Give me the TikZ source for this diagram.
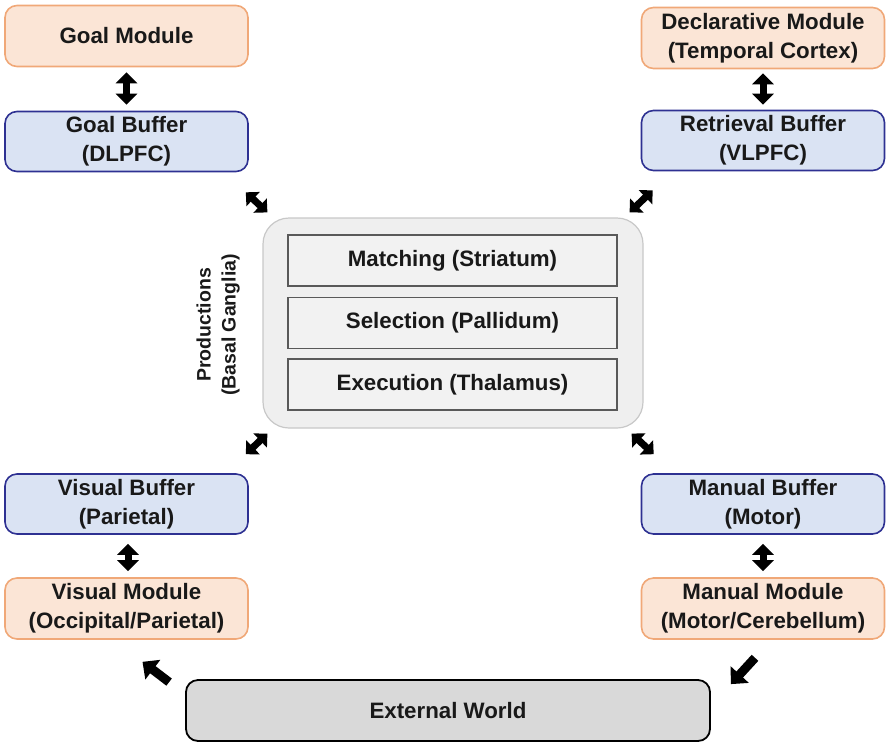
\documentclass[tikz,border=0pt]{standalone}
\usepackage{fontspec}
\setmainfont{Liberation Sans}
\usetikzlibrary{arrows.meta}
\definecolor{orfill}{HTML}{FBE5D6}
\definecolor{ordraw}{HTML}{F0A878}
\definecolor{blfill}{HTML}{DAE3F3}
\definecolor{bldraw}{HTML}{2E3192}
\definecolor{prfill}{HTML}{EFEFEF}
\definecolor{prdraw}{HTML}{C8C8C8}
\definecolor{infill}{HTML}{F2F2F2}
\definecolor{indraw}{HTML}{595959}
\definecolor{exfill}{HTML}{D9D9D9}
\tikzset{
  lbl/.style={font=\fontsize{22.3}{29}\selectfont\bfseries, text=black!90, align=center, inner sep=0pt},
  modbox/.style={lbl, draw=ordraw, fill=orfill, line width=1.6pt, rounded corners=12pt, minimum width=243pt, minimum height=61pt},
  bufbox/.style={lbl, draw=bldraw, fill=blfill, line width=1.6pt, rounded corners=12pt, minimum width=243pt, minimum height=60pt},
  inbox/.style={lbl, draw=indraw, fill=infill, line width=1.2pt, minimum width=329pt, minimum height=51pt},
  dbl/.style={line width=7pt, {Triangle[width=21pt,length=11pt]}-{Triangle[width=21pt,length=11pt]}},
  dbld/.style={line width=7pt, {Triangle[width=19pt,length=10pt]}-{Triangle[width=19pt,length=10pt]}},
  sgl/.style={line width=9pt, -{Triangle[width=24pt,length=13pt]}},
}
\begin{document}
\begin{tikzpicture}[x=1pt,y=-1pt]
\useasboundingbox (0,0) rectangle (891,748);
% modules and buffers
\node[modbox] (gm) at (126.5,36) {Goal Module};
\node[bufbox] (gb) at (126.5,141.5) {Goal Buffer\\(DLPFC)};
\node[modbox] (dm) at (763,38) {Declarative Module\\(Temporal Cortex)};
\node[bufbox] (rb) at (763,140.5) {Retrieval Buffer\\(VLPFC)};
\node[bufbox] (vb) at (126.5,504) {Visual Buffer\\(Parietal)};
\node[modbox] (vm) at (126.5,608.5) {Visual Module\\(Occipital/Parietal)};
\node[bufbox] (mb) at (763,504) {Manual Buffer\\(Motor)};
\node[modbox] (mm) at (763,608.5) {Manual Module\\(Motor/Cerebellum)};
% productions
\node[draw=prdraw, fill=prfill, line width=1.2pt, rounded corners=26pt, minimum width=380pt, minimum height=210pt] (prod) at (453,323) {};
\node[inbox] (mat) at (452.5,260.5) {Matching (Striatum)};
\node[inbox] (sel) at (452.5,323) {Selection (Pallidum)};
\node[inbox] (exe) at (452.5,384.5) {Execution (Thalamus)};
\node[lbl, font=\fontsize{19.5}{25}\selectfont\bfseries, rotate=90] (plbl) at (218,325) {Productions\\(Basal Ganglia)};
% external world
\node[lbl, draw=black, fill=exfill, line width=1.8pt, rounded corners=12pt, minimum width=524pt, minimum height=61pt] (ext) at (448,710.5) {External World};
% vertical double arrows
\draw[dbl, shorten <=5pt, shorten >=6pt] (gm.south) -- (gb.north);
\draw[dbl, shorten <=4pt, shorten >=5pt] (dm.south) -- (rb.north);
\draw[dbl, shorten <=9pt, shorten >=6pt] ([xshift=1.5pt]vb.south) -- ([xshift=1.5pt]vm.north);
\draw[dbl, shorten <=9pt, shorten >=6pt] (mb.south) -- (mm.north);
% diagonal double arrows
\draw[dbld] ([shift={(-3,20)}]gb.south east) -- ([shift={(5,-5)}]prod.north west);
\draw[dbld] ([shift={(12,19)}]rb.south west) -- ([shift={(-14,-5)}]prod.north east);
\draw[dbld] ([shift={(-3,-19)}]vb.north east) -- ([shift={(5,5)}]prod.south west);
\draw[dbld] ([shift={(13,-19)}]mb.north west) -- ([shift={(-12,5)}]prod.south east);
% single arrows
\draw[sgl] ([shift={(-16,3)}]ext.north west) -- ([shift={(16,22)}]vm.south);
\draw[sgl] ([shift={(-8,18)}]mm.south) -- ([shift={(20,5)}]ext.north east);
\end{tikzpicture}
\end{document}
